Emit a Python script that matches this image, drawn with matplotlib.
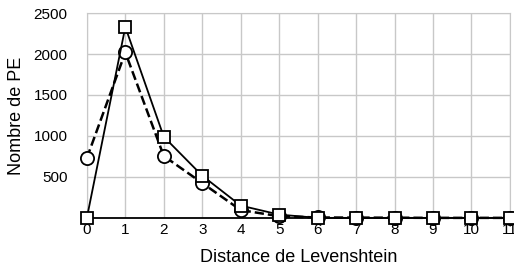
import matplotlib.pyplot as plt

plt.rcParams['font.family'] = ['Liberation Sans', 'DejaVu Sans']

distance = list(range(12))
pe_squares = [0, 2330, 990, 515, 150, 40, 0, 0, 0, 0, 0, 0]
pe_circles = [730, 2020, 755, 425, 95, 20, 5, 3, 2, 0, 0, 0]

fig = plt.figure(figsize=(5.14, 2.72), dpi=100)
ax = fig.add_axes([0.169, 0.199, 0.823, 0.753])

ax.plot(distance, pe_circles, 'k--', lw=1.8, marker='o', ms=9.5,
        mfc='white', mec='black', mew=1.3, clip_on=False, zorder=3)
ax.plot(distance, pe_squares, 'k-', lw=1.3, marker='s', ms=9,
        mfc='white', mec='black', mew=1.3, clip_on=False, zorder=4)

ax.set_xlim(0, 11)
ax.set_ylim(0, 2500)
ax.set_xticks(distance)
ax.set_yticks([500, 1000, 1500, 2000, 2500])
ax.grid(True, color='#c8c8c8', lw=1)
ax.set_axisbelow(True)
for s in ['top', 'right', 'left']:
    ax.spines[s].set_color('#c8c8c8')
ax.spines['bottom'].set_color('black')
ax.spines['bottom'].set_linewidth(1.3)
ax.tick_params(length=0, labelsize=11)
ax.tick_params(axis='x', pad=4)
ax.tick_params(axis='y', pad=14)

ax.set_xlabel('Distance de Levenshtein', fontsize=13, labelpad=8)
ax.set_ylabel('Nombre de PE', fontsize=13, labelpad=6)

fig.savefig('out.png', dpi=100)
